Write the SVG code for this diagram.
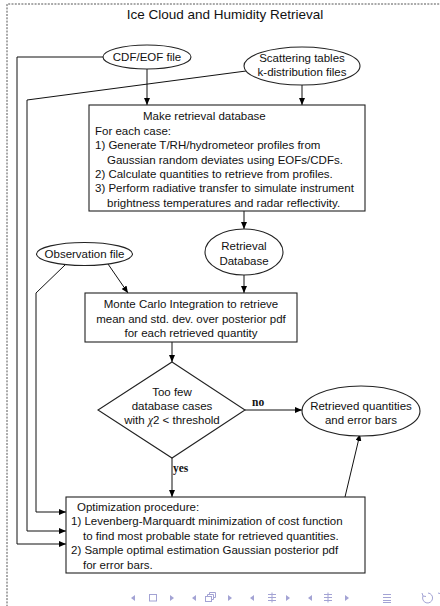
<svg xmlns="http://www.w3.org/2000/svg" width="440" height="606" viewBox="0 0 440 606">
<defs>
<marker id="ah" markerUnits="userSpaceOnUse" markerWidth="8" markerHeight="6" refX="7" refY="3" orient="auto">
<path d="M0,0 L7,3 L0,6 z" fill="#000"/>
</marker>
<style>
.t{font-family:"Liberation Sans",Arial,sans-serif;font-size:11.5px;fill:#111}
.c{text-anchor:middle}
.lab{font-family:"Liberation Serif","Times New Roman",serif;font-size:11.5px;font-weight:bold;fill:#111}
.sh{fill:#fff;stroke:#222;stroke-width:1.1}
.cn{fill:none;stroke:#111;stroke-width:1}
.ar{fill:none;stroke:#111;stroke-width:1;marker-end:url(#ah)}
.nav{fill:none;stroke:#a3a3d4;stroke-width:1}
.navf{fill:#a3a3d4}
</style>
</defs>
<rect width="440" height="606" fill="#fff"/>
<path d="M7,610 L7,4 L445,4" fill="none" stroke="#555" stroke-width="1" stroke-dasharray="2,1.3"/>
<text class="t c" x="225" y="19" style="font-size:13.5px">Ice Cloud and Humidity Retrieval</text>

<g id="connectors">
<path class="ar" d="M103,57 H17 V544 H66"/>
<path class="ar" d="M246,71 L27,100 V531 H66"/>
<path class="ar" d="M65,265 L36,293 V512 H66"/>
<path class="ar" d="M147,69 V105"/>
<path class="ar" d="M302,85 V105"/>
<path class="ar" d="M244,211 V229"/>
<path class="ar" d="M108,264 L128,293"/>
<path class="ar" d="M244,275 V293"/>
<path class="ar" d="M172,342 V362"/>
<path class="ar" d="M245,410 H302"/>
<path class="ar" d="M172,458 V497"/>
<path class="ar" d="M345,497 L360,434"/>
<text class="lab" x="252" y="406">no</text>
<text class="lab" x="173" y="472">yes</text>
</g>

<g id="cdf">
<ellipse class="sh" cx="147" cy="57" rx="44" ry="12"/>
<text class="t c" x="147" y="61">CDF/EOF file</text>
</g>

<g id="scattering">
<ellipse class="sh" cx="302" cy="66" rx="58" ry="19"/>
<text class="t c" x="302" y="62">Scattering tables</text>
<text class="t c" x="302" y="76">k-distribution files</text>
</g>

<g id="makedb">
<rect class="sh" x="89" y="105" width="276" height="106"/>
<text class="t" x="143" y="120.3">Make retrieval database</text>
<text class="t" x="95" y="134.7">For each case:</text>
<text class="t" x="95" y="149.1">1) Generate T/RH/hydrometeor profiles from</text>
<text class="t" x="107" y="163.5">Gaussian random deviates using EOFs/CDFs.</text>
<text class="t" x="95" y="177.9">2) Calculate quantities to retrieve from profiles.</text>
<text class="t" x="95" y="192.3">3) Perform radiative transfer to simulate instrument</text>
<text class="t" x="107" y="206.7">brightness temperatures and radar reflectivity.</text>
</g>

<g id="retrievaldb">
<ellipse class="sh" cx="244" cy="252" rx="39" ry="23"/>
<text class="t c" x="244" y="250">Retrieval</text>
<text class="t c" x="244" y="265">Database</text>
</g>

<g id="observation">
<ellipse class="sh" cx="84.5" cy="254" rx="48" ry="11.5"/>
<text class="t c" x="84.5" y="258">Observation file</text>
</g>

<g id="montecarlo">
<rect class="sh" x="85" y="293" width="212" height="49"/>
<text class="t c" x="191" y="308">Monte Carlo Integration to retrieve</text>
<text class="t c" x="191" y="323">mean and std. dev. over posterior pdf</text>
<text class="t c" x="191" y="337">for each retrieved quantity</text>
</g>

<g id="decision">
<polygon class="sh" points="172,362 245,410 172,458 98,410"/>
<text class="t c" x="172" y="396">Too few</text>
<text class="t c" x="172" y="410">database cases</text>
<text class="t c" x="172" y="424">with <tspan style="font-family:'Liberation Serif',serif;font-style:italic">χ</tspan>2 &lt; threshold</text>
</g>

<g id="retrieved">
<ellipse class="sh" cx="361" cy="411" rx="59" ry="25"/>
<text class="t c" x="361" y="410">Retrieved quantities</text>
<text class="t c" x="361" y="424">and error bars</text>
</g>

<g id="optimization">
<rect class="sh" x="66" y="497" width="299" height="76"/>
<text class="t" x="77" y="511">Optimization procedure:</text>
<text class="t" x="71" y="525.4">1) Levenberg-Marquardt minimization of cost function</text>
<text class="t" x="83" y="539.8">to find most probable state for retrieved quantities.</text>
<text class="t" x="71" y="554.2">2) Sample optimal estimation Gaussian posterior pdf</text>
<text class="t" x="83" y="568.6">for error bars.</text>
</g>

<g id="navigation">
<polygon class="navf" points="135,595 131,598 135,601"/>
<rect class="nav" x="149.5" y="594.5" width="7" height="6.5"/>
<polygon class="navf" points="170,595 174,598 170,601"/>
<polygon class="navf" points="196,595 192,598 196,601"/>
<rect class="nav" x="205.5" y="596.5" width="6" height="5"/>
<path class="nav" d="M207.5,596.5 V594.5 H213.5 V599.5 H211.5 M209.5,594.5 V592.5 H215.5 V597.5 H213.5"/>
<polygon class="navf" points="228,595 232,598 228,601"/>
<polygon class="navf" points="254,595 250,598 254,601"/>
<path class="nav" d="M268,594.5 H276 M268,597.5 H276 M268,600.5 H276 M272,592.5 V602.5"/>
<polygon class="navf" points="286,595 290,598 286,601"/>
<polygon class="navf" points="312,595 308,598 312,601"/>
<path class="nav" d="M324,594.5 H332 M324,597.5 H332 M324,600.5 H332 M328,592.5 V602.5"/>
<polygon class="navf" points="345,595 349,598 345,601"/>
<path class="nav" d="M383,594.5 H391 M383,597.5 H391 M383,600.5 H391 M383,602.5 H391"/>
<path class="nav" d="M423,596 A5,5 0 1 0 428,593 M423,596 L422,593 M423,596 L426,596.5"/>
<path class="nav" d="M438,593 A5,5 0 0 1 441,602"/>
</g>
</svg>
